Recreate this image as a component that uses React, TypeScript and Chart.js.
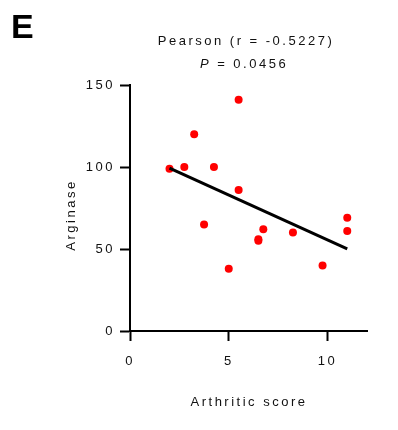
import React, { useEffect, useRef } from "react";
import Chart from "chart.js/auto";

// Arthritic score vs arginase, one point per animal
const arthriticScore = [2, 2.75, 3.25, 3.75, 4.25, 5, 5.5, 5.5, 6.5, 6.5, 6.75, 8.25, 9.75, 11, 11];
const arginase = [99, 100, 120, 65, 100, 38, 141, 86, 56, 55, 62, 60, 40, 69, 61];

const xTicks = [0, 5, 10];
const yTicks = [0, 50, 100, 150];

const panelLabel = "E";
const titleLine = "Pearson (r = -0.5227)";
const pLabel = "P";
const pValue = " = 0.0456";
const xTitle = "Arthritic score";
const yTitle = "Arginase";

const FONT = "'Liberation Sans', Arial, Helvetica, sans-serif";
const INK = "#111111";

// least-squares fit over the observed score range
function fitLine(xs: number[], ys: number[]) {
  const n = xs.length;
  const mx = xs.reduce((a, b) => a + b, 0) / n;
  const my = ys.reduce((a, b) => a + b, 0) / n;
  let sxy = 0;
  let sxx = 0;
  for (let i = 0; i < n; i++) {
    sxy += (xs[i] - mx) * (ys[i] - my);
    sxx += (xs[i] - mx) * (xs[i] - mx);
  }
  const slope = sxy / sxx;
  const icept = my - slope * mx;
  const x0 = Math.min(...xs);
  const x1 = Math.max(...xs);
  return [
    { x: x0, y: icept + slope * x0 },
    { x: x1, y: icept + slope * x1 },
  ];
}

const annotations = {
  id: "annotations",
  beforeDraw(chart: any) {
    chart.ctx.letterSpacing = "2.5px";
  },
  afterDraw(chart: any) {
    const ctx = chart.ctx as CanvasRenderingContext2D;
    const area = chart.chartArea;
    ctx.save();
    ctx.fillStyle = "#000";
    ctx.letterSpacing = "0px";
    ctx.font = `bold 34px ${FONT}`;
    ctx.textAlign = "left";
    ctx.textBaseline = "alphabetic";
    ctx.fillText(panelLabel, 11, 38);

    ctx.fillStyle = INK;
    ctx.letterSpacing = "2.5px";
    ctx.font = `13px ${FONT}`;
    ctx.textAlign = "center";
    ctx.textBaseline = "middle";
    ctx.fillText(titleLine, 246, 41);

    // "P = 0.0456" with italic P
    ctx.textAlign = "left";
    ctx.font = `italic 13px ${FONT}`;
    const wP = ctx.measureText(pLabel).width;
    ctx.font = `13px ${FONT}`;
    const wV = ctx.measureText(pValue).width;
    const startX = 244 - (wP + wV) / 2;
    ctx.font = `italic 13px ${FONT}`;
    ctx.fillText(pLabel, startX, 64);
    ctx.font = `13px ${FONT}`;
    ctx.fillText(pValue, startX + wP, 64);

    ctx.textAlign = "center";
    ctx.fillText(xTitle, 249, 402);

    ctx.translate(71, (area.top + area.bottom) / 2 + 7);
    ctx.rotate(-Math.PI / 2);
    ctx.fillText(yTitle, 0, 0);
    ctx.restore();
  },
};

export default function App() {
  const ref = useRef<HTMLCanvasElement | null>(null);

  useEffect(() => {
    document.body.style.margin = "0";
    const canvas = ref.current;
    if (!canvas) return;
    const points = arthriticScore.map((x, i) => ({ x, y: arginase[i] }));
    const fit = fitLine(arthriticScore, arginase);

    const tickFont = { family: FONT, size: 13 };
    const chart = new Chart(canvas, {
      type: "scatter",
      data: {
        datasets: [
          {
            type: "line",
            data: fit,
            borderColor: "#000",
            borderWidth: 3,
            pointRadius: 0,
            showLine: true,
            fill: false,
          } as any,
          {
            data: points,
            backgroundColor: "#ff0000",
            borderColor: "#ff0000",
            pointRadius: 4,
            borderWidth: 0,
          },
        ],
      },
      options: {
        animation: false,
        responsive: false,
        maintainAspectRatio: false,
        layout: { padding: { top: 85, right: 31, left: 0, bottom: 0 } },
        plugins: { legend: { display: false }, tooltip: { enabled: false } },
        scales: {
          x: {
            type: "linear",
            min: 0,
            max: 12,
            afterFit: (s: any) => {
              s.height = 99;
            },
            afterBuildTicks: (s: any) => {
              s.ticks = xTicks.map((v) => ({ value: v }));
            },
            ticks: { font: tickFont, color: INK, padding: 13, includeBounds: false, maxRotation: 0 },
            grid: {
              drawOnChartArea: false,
              drawTicks: true,
              tickLength: 10,
              tickWidth: 2,
              tickColor: "#000",
            },
            border: { display: true, color: "#000", width: 2 },
          },
          y: {
            type: "linear",
            min: 0,
            max: 150,
            afterFit: (s: any) => {
              s.width = 130;
            },
            afterBuildTicks: (s: any) => {
              s.ticks = yTicks.map((v) => ({ value: v }));
            },
            ticks: { font: tickFont, color: INK, padding: 5, includeBounds: false },
            grid: {
              drawOnChartArea: false,
              drawTicks: true,
              tickLength: 10,
              tickWidth: 2,
              tickColor: "#000",
            },
            border: { display: true, color: "#000", width: 2 },
          },
        },
      },
      plugins: [annotations],
    });
    return () => chart.destroy();
  }, []);

  return (
    <div style={{ width: 398, height: 430, background: "#fff" }}>
      <canvas ref={ref} width={398} height={430} style={{ display: "block" }} />
    </div>
  );
}
